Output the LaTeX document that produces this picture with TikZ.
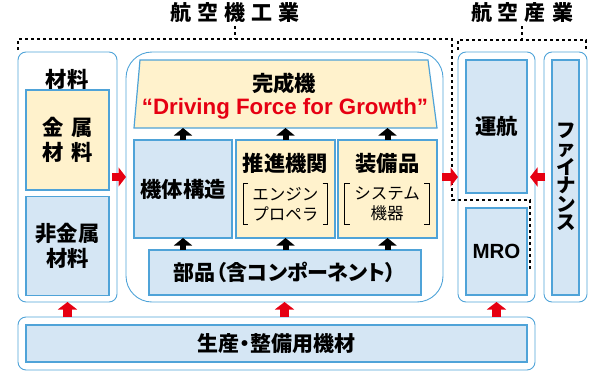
\documentclass[tikz,border=0pt]{standalone}
\usepackage{fontspec}
\setmainfont{Liberation Sans}
\newfontfamily\jp{Noto Sans CJK JP}
\newfontfamily\jpp{Noto Sans CJK JP}[RawFeature=+palt]
\usetikzlibrary{arrows.meta}
\definecolor{bfill}{HTML}{D5E6F4}
\definecolor{cfill}{HTML}{FFF2CC}
\definecolor{bline}{HTML}{4FA3D8}
\definecolor{rcol}{HTML}{E60012}
\tikzset{
  inbox/.style={draw=bline, line width=1.2pt, inner sep=0pt, outer sep=0pt},
  bluebox/.style={inbox, fill=bfill},
  creambox/.style={inbox, fill=cfill},
  grp/.style={draw=bline, line width=0.9pt, rounded corners=8pt, inner sep=0pt, outer sep=0pt},
  lbl/.style={font=\jp\bfseries\fontsize{21.3}{25}\selectfont, align=center, inner sep=0pt},
  sublbl/.style={font=\jp\fontsize{16.5}{20}\selectfont, align=center, inner sep=0pt, minimum width=84pt, minimum height=40pt},
  ttl/.style={font=\jp\bfseries\fontsize{21}{24}\selectfont, inner sep=0pt},
  blk/.style={line width=6pt, -{Triangle[width=18pt,length=7.5pt]}, black},
  redr/.style={line width=8.5pt, -{Triangle[width=19pt,length=7.5pt]}, rcol},
  dots/.style={line width=2.2pt, dash pattern=on 3pt off 3pt},
  brk/.style={line width=1.2pt, black},
}
\begin{document}
\begin{tikzpicture}[x=1pt,y=-1pt]
\useasboundingbox (0,0) rectangle (604,372);
% titles
\node[ttl] (t1) at (235,13) {航\kern6pt 空\kern6pt 機\kern6pt 工\kern6pt 業};
\node[ttl] (t2) at (522,13) {航\kern6pt 空\kern6pt 産\kern6pt 業};
% dotted brackets
\coordinate (d1) at (235,39);
\coordinate (d2) at (522,40);
\draw[dots] ([yshift=-3pt]t1.south) -- (d1);
\draw[dots] ([yshift=-3pt]t2.south) -- (d2);
\draw[dots] (18,50) -- (18,39) -- (452,39) -- (452,200) -- (530,200) -- (530,270);
\draw[dots] (458,50) -- (458,40) -- (586,40) -- (586,50);
% group boxes
\node[grp, minimum width=99pt, minimum height=250pt] (matg) at (67.5,177) {};
\node[grp, rounded corners=26pt, minimum width=317pt, minimum height=250pt] (cen) at (284.5,177) {};
\node[grp, minimum width=77pt, minimum height=250pt] (rg1) at (496.5,177) {};
\node[grp, minimum width=43pt, minimum height=250pt] (rg2) at (565.5,177) {};
\node[grp, minimum width=517pt, minimum height=53pt] (bot) at (276.5,343.5) {};
% materials
\node[lbl] (matl) at (67,79) {材料};
\node[creambox, lbl, minimum width=83pt, minimum height=100pt] (kinzoku) at (67.5,140) {金\kern8pt 属\\材\kern8pt 料};
\node[bluebox, lbl, minimum width=83pt, minimum height=99pt] (hikin) at (67.5,246) {非金属\\材料};
% complete aircraft
\draw[creambox] (140,60) -- (428,60) -- (437,128) -- (134,128) -- cycle;
\coordinate (kb) at (285,128);
\node[lbl] (kansei) at (284,83) {完成機};
\node[font=\bfseries\fontsize{22.3}{26}\selectfont, text=rcol, inner sep=0pt] (dfg) at (285,108.5) {“Driving Force for Growth”};
% sub-systems
\node[bluebox, lbl, minimum width=98pt, minimum height=98pt] (kitai) at (183,189) {機体構造};
\node[creambox, minimum width=99pt, minimum height=98pt] (suisin) at (285.5,189) {};
\node[creambox, minimum width=99pt, minimum height=98pt] (sobi) at (387.5,189) {};
\node[lbl] (suisinT) at (285.5,163) {推進機関};
\node[lbl] (sobiT) at (387.5,163) {装備品};
\node[sublbl] (suisinS) at (285.3,204) {エンジン\\プロペラ};
\node[sublbl] (sobiS) at (387,204) {システム\\機器};
\foreach \n in {suisinS,sobiS}{
  \draw[brk] ([xshift=5pt]\n.north west) -- (\n.north west) -- (\n.south west) -- ([xshift=5pt]\n.south west);
  \draw[brk] ([xshift=-5pt]\n.north east) -- (\n.north east) -- (\n.south east) -- ([xshift=-5pt]\n.south east);
}
\node[bluebox, lbl, font=\jpp\bfseries\fontsize{21}{25}\selectfont, minimum width=272pt, minimum height=45pt] (buhin) at (285,272.5) {部品（含コンポーネント）};
% aviation industry
\node[bluebox, lbl, minimum width=61pt, minimum height=133pt] (unko) at (496.5,126.5) {運航};
\node[bluebox, minimum width=61pt, minimum height=87pt, font=\bfseries\fontsize{20.5}{24}\selectfont] (mro) at (496.5,251.5) {MRO};
\node[bluebox, minimum width=27pt, minimum height=235pt] (fin) at (565.5,177.5) {};
\node[lbl, font=\jp\bfseries\fontsize{19.5}{18.5}\selectfont] (finT) at (566,177) {フ\\ァ\\イ\\ナ\\ン\\ス};
% production equipment
\node[bluebox, lbl, font=\jpp\bfseries\fontsize{21}{25}\selectfont, minimum width=501pt, minimum height=37pt] (seisan) at (276.5,343.5) {生産・整備用機材};
% black arrows
\draw[blk] (kitai.north) -- (kitai.north |- kb);
\draw[blk] (suisin.north) -- (suisin.north |- kb);
\draw[blk] (sobi.north) -- (sobi.north |- kb);
\draw[blk] (kitai.south |- buhin.north) -- (kitai.south);
\draw[blk] (suisin.south |- buhin.north) -- (suisin.south);
\draw[blk] (sobi.south |- buhin.north) -- (sobi.south);
% red arrows
\draw[redr] ([xshift=-5pt]matg.east) -- (cen.west);
\draw[redr] ([xshift=-1pt]cen.east) -- (rg1.west);
\draw[redr] ([xshift=1pt]rg2.west) -- ([xshift=-5pt]rg1.east);
\draw[redr] (matg.south |- bot.north) -- (matg.south);
\draw[redr] (cen.south |- bot.north) -- (cen.south);
\draw[redr] (rg1.south |- bot.north) -- (rg1.south);
\end{tikzpicture}
\end{document}
